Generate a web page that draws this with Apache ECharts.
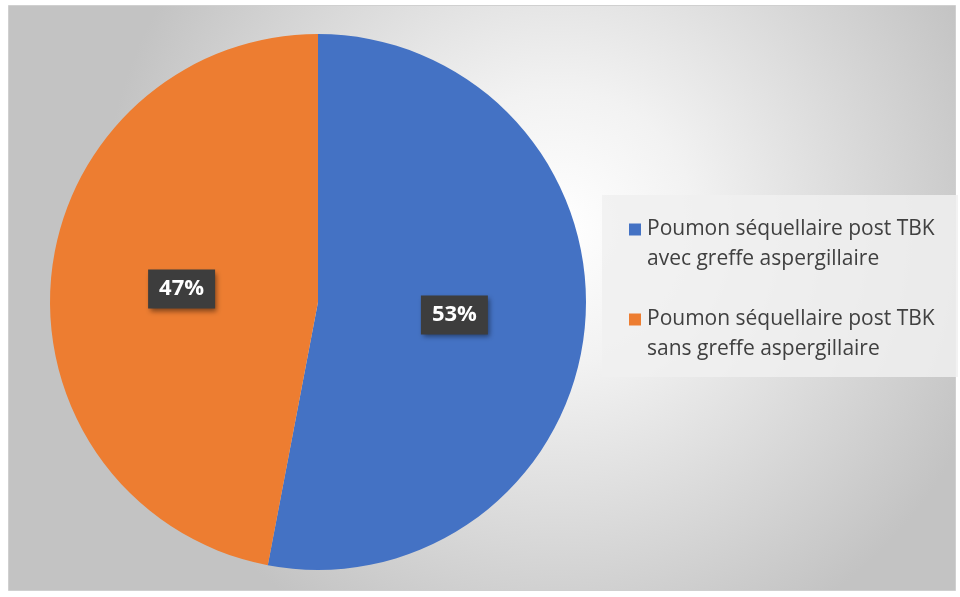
<!DOCTYPE html>
<html>
<head>
<meta charset="utf-8">
<script src="https://cdn.jsdelivr.net/npm/echarts@6/dist/echarts.min.js"></script>
<style>
  html, body { margin: 0; padding: 0; background: #ffffff; }
  #chart { width: 960px; height: 597px; }
</style>
</head>
<body>
<div id="chart"></div>
<script>
// Share of patients, in percent
const categories = [
  'Poumon séquellaire post TBK\navec greffe aspergillaire',
  'Poumon séquellaire post TBK\nsans greffe aspergillaire'
];
const values = [53, 47];
const colors = ['#4472c4', '#ed7d31'];

const chart = echarts.init(document.getElementById('chart'), null, { renderer: 'canvas' });

// Legend text: a square swatch on the first line, second line indented under the text
const legendRich = {
  t: { fontFamily: 'Open Sans', fontSize: 21, color: '#404040', lineHeight: 30 },
  i: { fontFamily: 'Open Sans', fontSize: 21, color: '#404040', lineHeight: 30, padding: [0, 0, 0, 18] },
  g: { width: 6 }
};
colors.forEach((c, k) => {
  legendRich['m' + k] = { width: 12, height: 12, backgroundColor: c, lineHeight: 30 };
});

const option = {
  animation: false,
  graphic: [
    {
      type: 'rect',
      z: -10,
      shape: { x: 8.5, y: 5.5, width: 947, height: 585 },
      style: {
        fill: {
          type: 'radial', x: 0.58, y: 0.38, r: 0.78,
          colorStops: [
            { offset: 0, color: '#ffffff' },
            { offset: 0.3, color: '#f2f2f2' },
            { offset: 1, color: '#c3c3c3' }
          ]
        },
        stroke: '#d0d0d0',
        lineWidth: 1
      }
    },
    {
      type: 'rect',
      z: -5,
      shape: { x: 602, y: 195, width: 356, height: 182 },
      style: { fill: 'rgba(240,240,240,0.85)' }
    }
  ],
  legend: {
    orient: 'vertical',
    left: 619,
    top: 214,
    icon: 'none',
    itemWidth: 0,
    itemHeight: 0,
    itemGap: 39,
    data: categories,
    formatter: function (name) {
      const k = categories.indexOf(name);
      const lines = name.split('\n');
      return '{m' + k + '|}{g|}{t|' + lines[0] + '}\n{i|' + lines[1] + '}';
    },
    textStyle: { rich: legendRich }
  },
  series: [
    {
      type: 'pie',
      center: [318, 302],
      radius: 268,
      startAngle: 90,
      clockwise: true,
      avoidLabelOverlap: false,
      itemStyle: { borderWidth: 0 },
      label: {
        show: true,
        position: 'inside',
        formatter: '{c}%',
        fontFamily: 'Open Sans',
        fontWeight: 'bold',
        fontSize: 22,
        color: '#ffffff',
        backgroundColor: '#3d3d3d',
        padding: [9, 11, 8, 11],
        shadowColor: 'rgba(0,0,0,0.45)',
        shadowBlur: 5,
        shadowOffsetX: 2,
        shadowOffsetY: 3
      },
      labelLine: { show: false },
      emphasis: { disabled: true },
      data: categories.map((name, i) => ({
        name: name,
        value: values[i],
        itemStyle: { color: colors[i] }
      }))
    }
  ]
};

chart.setOption(option);
</script>
</body>
</html>
